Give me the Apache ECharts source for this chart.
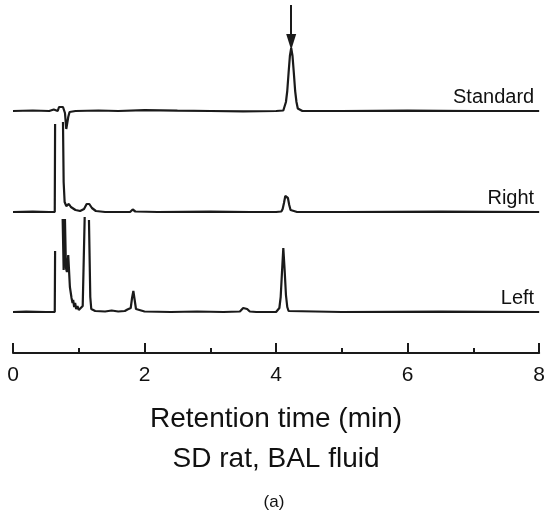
<!DOCTYPE html>
<html>
<head>
<meta charset="utf-8">
<script src="https://cdn.jsdelivr.net/npm/echarts@6/dist/echarts.min.js"></script>
<style>
  html, body { margin: 0; background: #fff; }
  #chart { width: 548px; height: 516px; }
</style>
</head>
<body>
<div id="chart"></div>
<script>
// traces: [retention time (min), detector signal above own baseline]
// null = signal off the plotted range (clipped in the figure)
const traceNames = ['Standard', 'Right', 'Left']

const standardTrace = [
  [0, 0], [0.3, 0.5], [0.55, 0], [0.62, 1.5], [0.65, 2], [0.68, 0], [0.7, 4], [0.73, 6],
  [0.76, 4], [0.79, -2], [0.81, -18], [0.825, -20], [0.84, -6], [0.86, -1], [0.95, 0],
  [1.3, 0.5], [1.6, 0], [2.0, 0.8], [2.5, 0.3], [3.0, 0], [3.5, -0.3], [4.0, 0],
  [4.11, 0.5], [4.13, 2.5], [4.15, 9], [4.17, 20], [4.19, 38], [4.21, 55], [4.23, 63],
  [4.25, 55], [4.27, 38], [4.29, 20], [4.31, 9], [4.33, 2.5], [4.35, 0.5], [4.4, 0],
  [5, 0], [6, 0.3], [7, 0], [8, 0],
]

const rightTrace = [
  [0, 0], [0.3, 0.3], [0.55, 0], [0.635, 0], [0.64, 88], [0.7, null], [0.76, 90],
  [0.77, 30], [0.785, 10], [0.81, 6], [0.85, 8], [0.88, 5], [0.95, 2], [1.02, 1],
  [1.08, 3], [1.12, 8], [1.16, 8], [1.2, 4], [1.26, 1], [1.4, 0], [1.78, 0], [1.82, 2.5],
  [1.86, 0.5], [2.2, 0], [3, 0.3], [3.6, 0], [4.0, 0], [4.08, 0.5], [4.1, 3], [4.12, 9],
  [4.14, 16], [4.16, 18], [4.18, 14], [4.2, 7], [4.22, 2], [4.25, 0.5], [4.32, 0],
  [5, 0], [6.5, 0.3], [8, 0],
]

const leftTrace = [
  [0, 0], [0.2, 0.3], [0.5, 0], [0.635, 0], [0.64, 61], [0.7, null], [0.755, 93],
  [0.77, 42], [0.78, 93], [0.785, null], [0.79, 93], [0.805, 44], [0.82, 40], [0.84, 57],
  [0.865, 25], [0.89, 14], [0.905, 9], [0.915, 12], [0.93, 5], [0.945, 9], [0.96, 3],
  [0.98, 6], [1.0, 2], [1.03, 4], [1.06, 6], [1.09, 95], [1.12, null], [1.155, 92],
  [1.175, 15], [1.19, 3], [1.25, 1], [1.4, 0.5], [1.5, 1.5], [1.6, 0.5], [1.7, 1],
  [1.74, 2.5], [1.76, 1], [1.79, 4], [1.81, 14], [1.83, 21], [1.85, 12], [1.87, 3],
  [1.9, 1], [2.0, 0.5], [2.4, 0], [2.8, 0.5], [3.2, 0], [3.45, 0.5], [3.5, 4],
  [3.53, 5.5], [3.56, 3], [3.6, 0.5], [3.7, 0], [4.0, 0], [4.03, 1], [4.05, 4],
  [4.07, 15], [4.09, 40], [4.11, 64], [4.13, 42], [4.15, 17], [4.17, 5], [4.19, 1],
  [4.22, 0], [5, 0], [6.5, 0.3], [8, 0],
]

// analyte peak marked in the standard
const arrowTime = 4.23
const arrowSpan = [106, 69] // signal units above the standard baseline

const xTicks = [0, 2, 4, 6, 8]

// vertical stacking of the traces
const offsets = [201, 100, 0]
const ink = '#1a1a1a'
const font = "'Liberation Sans', Arial, sans-serif"

const chart = echarts.init(document.getElementById('chart'))

const series = [standardTrace, rightTrace, leftTrace].map((trace, i) => {
  const s = {
    name: traceNames[i],
    type: 'line',
    data: trace.map(([t, v]) => [t, v == null ? null : v + offsets[i]]),
    showSymbol: false,
    symbol: 'none',
    connectNulls: false,
    lineStyle: { color: ink, width: 2.2 },
    endLabel: {
      show: true,
      formatter: traceNames[i],
      align: 'right',
      verticalAlign: 'middle',
      distance: 0,
      offset: [-5, -14],
      color: '#111',
      fontSize: 20,
      fontFamily: font,
    },
    animation: false,
    z: 3,
  }
  if (i === 0) {
    s.markLine = {
      silent: true,
      symbol: ['none', 'triangle'],
      symbolSize: [10, 16],
      label: { show: false },
      lineStyle: { color: ink, width: 2, type: 'solid' },
      data: [[
        { coord: [arrowTime, arrowSpan[0] + offsets[0]] },
        { coord: [arrowTime, arrowSpan[1] + offsets[0]] },
      ]],
      animation: false,
    }
  }
  return s
})

chart.setOption({
  backgroundColor: '#fff',
  animation: false,
  title: {
    text: '(a)',
    left: 'center',
    top: 489,
    textStyle: { fontSize: 17, fontWeight: 'normal', color: '#111', fontFamily: font },
  },
  grid: { left: 13, right: 7, top: 0, bottom: 163 },
  xAxis: {
    type: 'value',
    min: 0,
    max: 8,
    interval: 2,
    name: 'Retention time (min)\nSD rat, BAL fluid',
    nameLocation: 'middle',
    nameGap: 46,
    nameTextStyle: { fontSize: 28, color: '#111', fontFamily: font, lineHeight: 40, verticalAlign: 'top' },
    axisLine: { onZero: false, lineStyle: { color: ink, width: 2 } },
    axisTick: { show: true, inside: true, length: 10, lineStyle: { color: ink, width: 2 } },
    minorTick: { show: true, splitNumber: 2, length: 5, lineStyle: { color: ink, width: 2 } },
    splitLine: { show: false },
    minorSplitLine: { show: false },
    axisLabel: {
      margin: 12,
      fontSize: 21,
      color: '#111',
      fontFamily: font,
      formatter: (v) => (xTicks.includes(v) ? String(v) : ''),
    },
  },
  yAxis: {
    type: 'value',
    show: false,
    min: -41,
    max: 312,
  },
  series,
})
</script>
</body>
</html>
